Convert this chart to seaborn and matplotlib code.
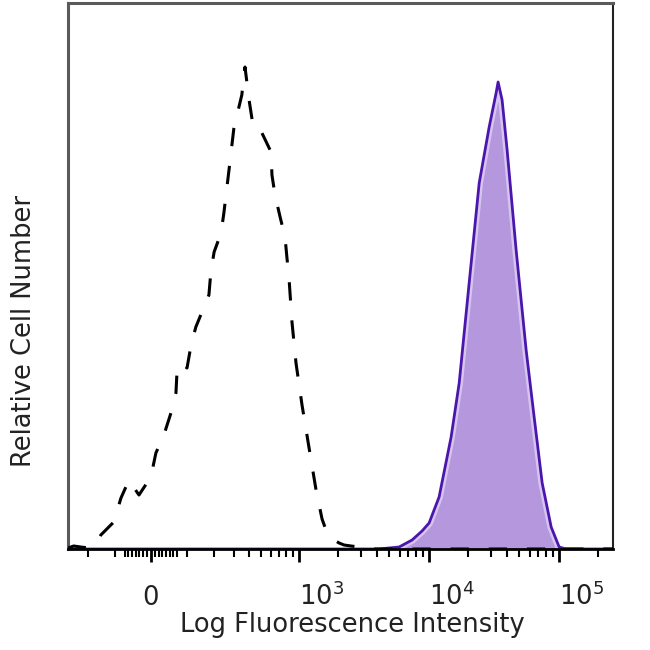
import numpy as np
import seaborn as sns
import matplotlib.pyplot as plt

# biexponential-ish display scale (arcsinh with cofactor)
COF = 146.0


def fwd(x):
    return np.arcsinh(np.asarray(x, dtype=float) / COF)


def inv(y):
    return COF * np.sinh(np.asarray(y, dtype=float))


# isotype control (dashed) - intensity / relative count
iso_x = [-300, -268, -232, -194, -158, -147, -103, -81, -58, -42, -31, 0, 13, 34,
         53, 67, 70, 81, 100, 113, 129, 151, 178, 186, 200, 232, 246, 273, 301,
         351, 373, 403, 432, 458, 512, 605, 615, 650, 713, 779, 807, 837, 883,
         949, 1057, 1199, 1358, 1511, 1652, 1872, 2045, 2235, 2526, 2917, 3808,
         262144]
iso_y = [1, 3, 2, 1, 8, 14, 27, 51, 69, 60, 54, 72, 96, 114,
         136, 156, 177, 186, 181, 204, 222, 237, 254, 277, 297, 316, 336, 379, 421,
         454, 482, 449, 425, 417, 416, 397, 374, 354, 332, 312, 291, 271, 227,
         186, 144, 101, 59, 30, 16, 9, 6, 4, 3, 2, 0,
         0]

# stained sample (filled purple)
stain_x = [-300, 4161, 5930, 7466, 8900, 10090, 12040, 14900, 17190, 20510, 24500,
           29240, 33060, 34240, 36760, 40180, 47130, 56270, 64850, 74750, 87660,
           101000, 114400, 262144]
stain_y = [0, 0, 2, 9, 18, 26, 52, 112, 166, 266, 366,
           422, 456, 467, 449, 399, 299, 199, 132, 66, 22,
           2, 0, 0]

major_ticks = [0, 1e3, 1e4, 1e5]
major_labels = ['0', '$10^{3}$', '$10^{4}$', '$10^{5}$']
minor_ticks = ([-200, -100] + [-m * 10 for m in range(1, 8)]
               + [m * 10 for m in range(1, 8)] + [m * 100 for m in range(1, 10)]
               + [m * 10 ** e for e in (3, 4) for m in range(2, 10)] + [2e5])

sns.set_theme(style='white')
plt.rcParams['font.family'] = ['DejaVu Sans']

fig, ax = plt.subplots(figsize=(6.5, 6.5), dpi=100)
fig.subplots_adjust(left=68 / 650, right=613 / 650, bottom=1 - 549 / 650, top=1 - 3 / 650)

ax.set_xscale('function', functions=(fwd, inv))
ax.set_xlim(-300, 262144)
ax.set_ylim(0, 546)

# filled histogram with a light inner rim
poly = ax.fill_between(stain_x, stain_y, color='#b497dc', lw=0, zorder=1)
rim, = ax.plot(stain_x, stain_y, color='#d6c6ef', lw=5.5, zorder=1.5)
rim.set_clip_path(poly.get_paths()[0], ax.transData)
sns.lineplot(x=stain_x, y=stain_y, ax=ax, color='#4b16ad', lw=2.0,
             estimator=None, sort=False, zorder=2)

sns.lineplot(x=iso_x, y=iso_y, ax=ax, color='black', lw=2.2,
             linestyle=(0, (6, 6.5)), estimator=None, sort=False, zorder=3)

ax.set_xticks(major_ticks, major_labels)
ax.set_xticks(minor_ticks, minor=True)
ax.tick_params(axis='x', which='major', direction='out', bottom=True, length=9,
               width=2, labelsize=18.5, pad=31, colors='black', labelcolor='#222222')
ax.tick_params(axis='x', which='minor', direction='out', bottom=True, length=5.5,
               width=1.5, colors='black')
ax.tick_params(axis='y', left=False, labelleft=False)

for i, t in enumerate(ax.xaxis.get_major_ticks()):
    t.label1.set_va('baseline')
    t.label1.set_ha('center' if i == 0 else 'left')

for side in ['top', 'left']:
    ax.spines[side].set_color('#5a5a5a')
    ax.spines[side].set_linewidth(2.2)
ax.spines['right'].set_color('#222222')
ax.spines['right'].set_linewidth(1.5)
ax.spines['bottom'].set_color('black')
ax.spines['bottom'].set_linewidth(2)

ax.set_xlabel('Log Fluorescence Intensity', fontsize=18.5, color='#222222')
ax.xaxis.set_label_coords(0.521, -0.1155)
ax.set_ylabel('Relative Cell Number', fontsize=18.5, color='#222222')
ax.yaxis.set_label_coords(-0.0565, 0.40)

fig.savefig('out.png', dpi=100)
